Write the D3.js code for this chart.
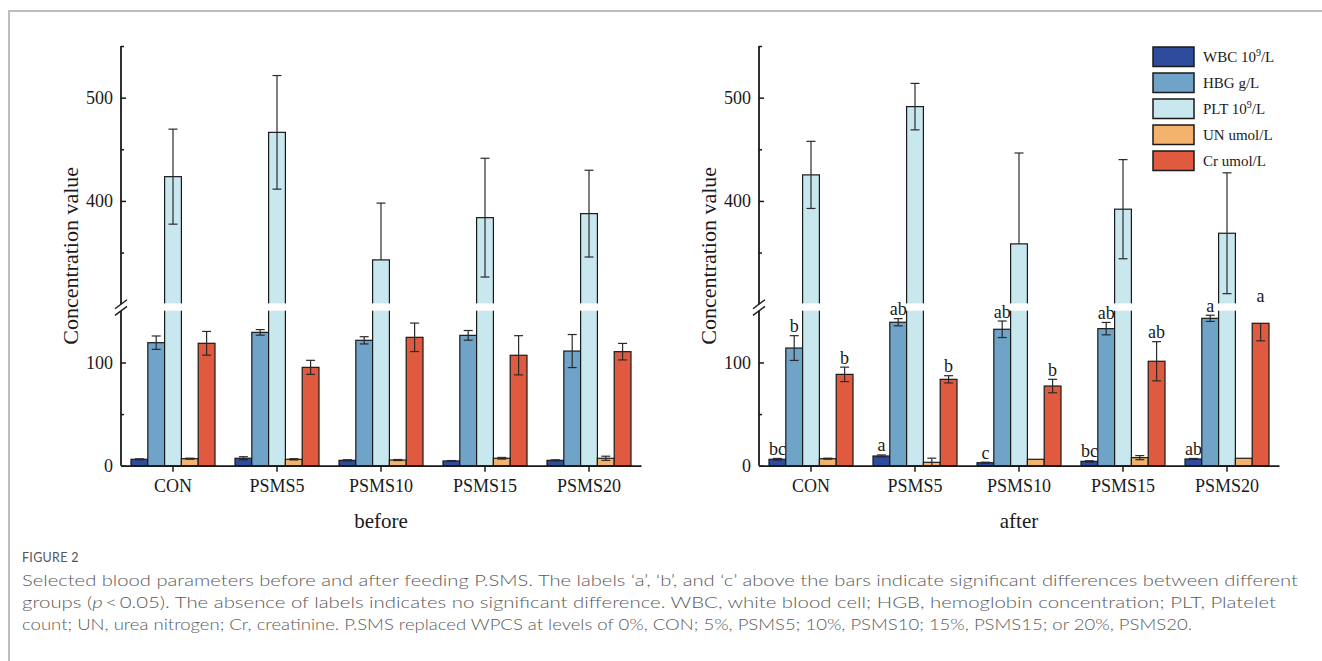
<!DOCTYPE html>
<html><head><meta charset="utf-8">
<script src="https://cdn.jsdelivr.net/npm/d3@7"></script>
<style>
html,body{margin:0;padding:0;background:#fff;}
svg{display:block;}
</style></head>
<body>
<svg id="chart" width="1322" height="661"></svg>
<script>
// ---------- data ----------
const categories = ["CON", "PSMS5", "PSMS10", "PSMS15", "PSMS20"];
const seriesKeys = ["WBC", "HBG", "PLT", "UN", "Cr"];
const seriesColors = ["#2f4b9b", "#6fa3c7", "#c9e7ef", "#f4b36d", "#e05a3f"];
const legendMain = ["WBC 10", "HBG g/L", "PLT 10", "UN umol/L", "Cr umol/L"];
const legendSup = ["9", "", "9", "", ""];
const legendTail = ["/L", "", "/L", "", ""];
const upperTicks = [400, 500];
const upperMinor = [350, 450, 550];
const lowerTicks = [0, 100];
const lowerMinor = [50];
const panelTitles = ["before", "after"];

const beforeWBC = [6.2, 7.2, 5.2, 4.6, 5.2];
const beforeWBCErr = [0.5, 1.5, 0.6, 0.4, 0.5];
const beforeHBG = [119.2, 129.2, 121.5, 126.3, 111.1];
const beforeHBGErr = [6.5, 2.7, 3.5, 4.7, 16];
const beforePLT = [423.5, 466.4, 342.9, 383.8, 387.7];
const beforePLTErr = [46, 55, 55, 57.5, 42];
const beforeUN = [6.8, 6.2, 5.5, 7.2, 7.2];
const beforeUNErr = [0.5, 0.6, 0.5, 0.8, 2];
const beforeCr = [118.6, 95.3, 124.4, 107, 110.5];
const beforeCrErr = [11.5, 6.8, 13.8, 19, 8];

const afterWBC = [6.2, 9.4, 2.9, 4.2, 6.5];
const afterWBCErr = [0.8, 1, 0.5, 0.6, 0.5];
const afterHBG = [114, 139, 132.2, 132.8, 142.8];
const afterHBGErr = [12, 3.5, 8, 6, 3];
const afterPLT = [425.2, 491.3, 358.4, 392, 368.7];
const afterPLTErr = [32.5, 22.5, 88, 48, 58.5];
const afterUN = [6.8, 3.3, 6.2, 7.8, 7.2];
const afterUNErr = [0.5, 4, 0, 2, 0];
const afterCr = [88.5, 83.7, 77.2, 101.2, 138];
const afterCrErr = [7, 3.5, 6.5, 19, 17];

const afterWBCLabels = ["bc", "a", "c", "bc", "ab"];
const afterHBGLabels = ["b", "ab", "ab", "ab", "a"];
const afterCrLabels = ["b", "b", "b", "ab", "a"];

const captionHead = "FIGURE 2";
const captionLine1 = "Selected blood parameters before and after feeding P.SMS. The labels \u2018a\u2019, \u2018b\u2019, and \u2018c\u2019 above the bars indicate significant differences between different";
const captionLine2a = "groups (";
const captionLine2p = "p";
const captionLine2b = "\u2009<\u20090.05). The absence of labels indicates no significant difference. WBC, white blood cell; HGB, hemoglobin concentration; PLT, Platelet";
const captionLine3 = "count; UN, urea nitrogen; Cr, creatinine. P.SMS replaced WPCS at levels of 0%, CON; 5%, PSMS5; 10%, PSMS10; 15%, PSMS15; or 20%, PSMS20.";

const panels = [
  {values: [beforeWBC, beforeHBG, beforePLT, beforeUN, beforeCr],
   errs: [beforeWBCErr, beforeHBGErr, beforePLTErr, beforeUNErr, beforeCrErr],
   labels: [null, null, null, null, null]},
  {values: [afterWBC, afterHBG, afterPLT, afterUN, afterCr],
   errs: [afterWBCErr, afterHBGErr, afterPLTErr, afterUNErr, afterCrErr],
   labels: [afterWBCLabels, afterHBGLabels, null, null, afterCrLabels]}
];

// ---------- layout ----------
const svg = d3.select("#chart");
const serif = "'Liberation Serif','Times New Roman',serif";
const ink = "#1a1a1a";

// figure frame
svg.append("line").attr("x1", 9).attr("y1", 11).attr("x2", 1322).attr("y2", 11)
  .attr("stroke", "#bdbdbd").attr("stroke-width", 2);
svg.append("line").attr("x1", 9).attr("y1", 10).attr("x2", 9).attr("y2", 661)
  .attr("stroke", "#bdbdbd").attr("stroke-width", 2);

const axisLefts = [121, 759];
const plotW = 520;
const yBase = 465.7, yTop = 46;
const upperBottom = 304.2, lowerTop = 310.9;

const upper = d3.scaleLinear().domain([300, 550]).range([upperBottom, yTop]);
const lower = d3.scaleLinear().domain([0, 150]).range([yBase, lowerTop]);
const yv = v => v >= 300 ? upper(v) : lower(v);
const inBreak = v => v > 150 && v < 300;

panels.forEach((p, pi) => {
  const ax = axisLefts[pi];
  const g = svg.append("g");
  const x = d3.scaleBand().domain(categories).range([ax, ax + plotW]);
  const xi = d3.scaleBand().domain(seriesKeys).range([10, x.bandwidth() - 10]);
  const bw = xi.bandwidth();

  // bars
  seriesKeys.forEach((s, si) => {
    categories.forEach((c, ci) => {
      const v = p.values[si][ci];
      const bx = x(c) + xi(s);
      const ty = yv(v);
      g.append("rect").attr("x", bx).attr("y", ty).attr("width", bw).attr("height", yBase - ty)
        .attr("fill", seriesColors[si]).attr("stroke", ink).attr("stroke-width", 1.2);
      if (v >= 300) {
        g.append("rect").attr("x", bx - 1.5).attr("y", upperBottom - 0.8)
          .attr("width", bw + 3).attr("height", lowerTop - upperBottom + 0.6).attr("fill", "#fff");
      }
    });
  });

  // error bars
  seriesKeys.forEach((s, si) => {
    categories.forEach((c, ci) => {
      const v = p.values[si][ci], e = p.errs[si][ci];
      if (!e) return;
      const cx = x(c) + xi(s) + bw / 2;
      const cap = 4.5;
      const ends = [v + e, v - e];
      ends.forEach(end => {
        if (inBreak(end)) return;
        const y0 = yv(v), y1 = yv(end);
        g.append("line").attr("x1", cx).attr("x2", cx).attr("y1", y0).attr("y2", y1)
          .attr("stroke", "#2a2a2a").attr("stroke-width", 1.2);
        g.append("line").attr("x1", cx - cap).attr("x2", cx + cap).attr("y1", y1).attr("y2", y1)
          .attr("stroke", "#2a2a2a").attr("stroke-width", 1.2);
      });
    });
  });

  // significance letters
  seriesKeys.forEach((s, si) => {
    const labs = p.labels[si];
    if (!labs) return;
    categories.forEach((c, ci) => {
      const v = p.values[si][ci], e = p.errs[si][ci] || 0;
      const cx = x(c) + xi(s) + bw / 2;
      g.append("text").attr("x", cx).attr("y", lower(v + e) - 3.5)
        .attr("text-anchor", "middle").attr("font-family", serif).attr("font-size", 18)
        .attr("fill", ink).text(labs[ci]);
    });
  });

  // y axis segments with break marks
  const axG = g.append("g").attr("stroke", ink).attr("stroke-width", 1.8);
  axG.append("line").attr("x1", ax).attr("x2", ax).attr("y1", yTop).attr("y2", upperBottom);
  axG.append("line").attr("x1", ax).attr("x2", ax).attr("y1", lowerTop).attr("y2", yBase);
  [upperBottom, lowerTop].forEach(by => {
    axG.append("line").attr("x1", ax - 6).attr("x2", ax + 6).attr("y1", by + 4.5).attr("y2", by - 4.5)
      .attr("stroke-width", 1.4);
  });

  const styleAxis = sel => {
    sel.select(".domain").remove();
    sel.selectAll(".tick line").attr("stroke", ink).attr("stroke-width", 1.5);
    sel.selectAll(".tick text").attr("font-family", serif).attr("font-size", 18).attr("fill", ink);
  };
  g.append("g").attr("transform", `translate(${ax},0)`)
    .call(d3.axisLeft(upper).tickValues(upperTicks).tickSize(-5).tickPadding(8)).call(styleAxis);
  g.append("g").attr("transform", `translate(${ax},0)`)
    .call(d3.axisLeft(upper).tickValues(upperMinor).tickSize(-3).tickFormat("")).call(styleAxis);
  g.append("g").attr("transform", `translate(${ax},0)`)
    .call(d3.axisLeft(lower).tickValues(lowerTicks).tickSize(-5).tickPadding(8)).call(styleAxis);
  g.append("g").attr("transform", `translate(${ax},0)`)
    .call(d3.axisLeft(lower).tickValues(lowerMinor).tickSize(-3).tickFormat("")).call(styleAxis);

  // x axis
  const xa = g.append("g").attr("transform", `translate(0,${yBase})`)
    .call(d3.axisBottom(x).tickSize(6).tickSizeOuter(0).tickPadding(8));
  xa.select(".domain").attr("stroke", ink).attr("stroke-width", 1.8);
  xa.selectAll(".tick line").attr("stroke", ink).attr("stroke-width", 1.5);
  xa.selectAll(".tick text").attr("font-family", serif).attr("font-size", 18).attr("fill", ink);

  // axis titles
  g.append("text").attr("transform", `translate(${ax - 43},${(yTop + yBase) / 2}) rotate(-90)`)
    .attr("text-anchor", "middle").attr("font-family", serif).attr("font-size", 22)
    .attr("fill", ink).text("Concentration value");
  g.append("text").attr("x", ax + plotW / 2).attr("y", 528)
    .attr("text-anchor", "middle").attr("font-family", serif).attr("font-size", 21)
    .attr("fill", ink).text(panelTitles[pi]);
});

// legend
const lg = svg.append("g").attr("transform", "translate(1153,47)");
seriesKeys.forEach((s, i) => {
  const row = lg.append("g").attr("transform", `translate(0,${i * 26})`);
  row.append("rect").attr("x", 0).attr("y", 0).attr("width", 41).attr("height", 19.5)
    .attr("fill", seriesColors[i]).attr("stroke", ink).attr("stroke-width", 1.5);
  const t = row.append("text").attr("x", 50).attr("y", 15).attr("font-family", serif)
    .attr("font-size", 15).attr("fill", ink);
  t.append("tspan").text(legendMain[i]);
  if (legendSup[i]) {
    t.append("tspan").attr("dy", -6).attr("font-size", 10).text(legendSup[i]);
    t.append("tspan").attr("dy", 6).text(legendTail[i]);
  }
});

// caption
const capFont = "Lato,'Open Sans','Noto Sans',sans-serif";
svg.append("text").attr("x", 22).attr("y", 562).attr("font-family", capFont)
  .attr("font-size", 12.5).attr("fill", "#555").attr("letter-spacing", 0.3).text(captionHead);
const capLines = [
  {y: 586, len: 1276},
  {y: 608, len: 1254},
  {y: 630, len: 1170}
];
svg.append("text").attr("x", 22).attr("y", capLines[0].y).attr("font-family", capFont)
  .attr("font-weight", 300).attr("font-size", 16.5).attr("fill", "#5a5a5a")
  .attr("textLength", capLines[0].len).attr("lengthAdjust", "spacingAndGlyphs").text(captionLine1);
const c2 = svg.append("text").attr("x", 22).attr("y", capLines[1].y).attr("font-family", capFont)
  .attr("font-weight", 300).attr("font-size", 16.5).attr("fill", "#5a5a5a")
  .attr("textLength", capLines[1].len).attr("lengthAdjust", "spacingAndGlyphs");
c2.append("tspan").text(captionLine2a);
c2.append("tspan").attr("font-style", "italic").text(captionLine2p);
c2.append("tspan").text(captionLine2b);
svg.append("text").attr("x", 22).attr("y", capLines[2].y).attr("font-family", capFont)
  .attr("font-weight", 300).attr("font-size", 16.5).attr("fill", "#5a5a5a")
  .attr("textLength", capLines[2].len).attr("lengthAdjust", "spacingAndGlyphs").text(captionLine3);
</script>
</body></html>
